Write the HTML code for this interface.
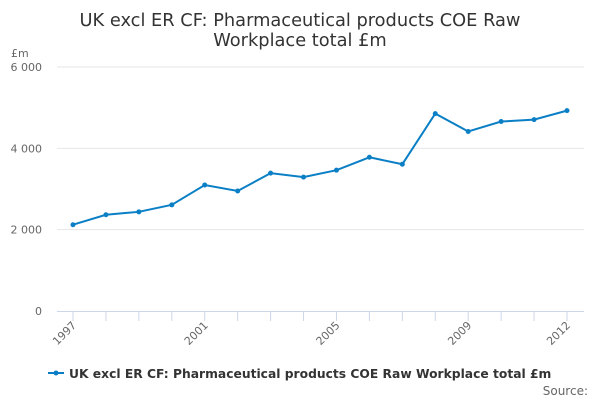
<!DOCTYPE html>
<html><head><meta charset="utf-8"><style>
body{margin:0;background:#fff;font-family:"DejaVu Sans","Liberation Sans",sans-serif}
svg{display:block}
</style></head><body>
<svg id="chart" width="600" height="400" xmlns="http://www.w3.org/2000/svg">
<text x="300" y="26" text-anchor="middle" font-size="17.8" fill="#333">UK excl ER CF: Pharmaceutical products COE Raw</text>
<text x="300" y="46" text-anchor="middle" font-size="17.8" fill="#333">Workplace total £m</text>
<text x="11" y="57" font-size="11" fill="#666">£m</text>
<g id="grid"></g><g id="xaxis"></g><g id="series"></g>
<g>
<line x1="48" y1="373" x2="64" y2="373" stroke="#0a7fc6" stroke-width="2"/>
<circle cx="56" cy="373" r="2.5" fill="#0a7fc6"/>
<text x="69" y="378" font-size="12.3" font-weight="bold" fill="#333">UK excl ER CF: Pharmaceutical products COE Raw Workplace total £m</text>
</g>
<text x="588" y="395" text-anchor="end" font-size="12" fill="#666">Source:</text>
</svg>
<script>
const years=[1997,1998,1999,2000,2001,2002,2003,2004,2005,2006,2007,2008,2009,2010,2011,2012];
const values=[2122,2366,2439,2610,3098,2951,3390,3293,3463,3780,3610,4854,4415,4659,4707,4927];
const yTicks=[0,2000,4000,6000];
const yTickLabels=["0","2 000","4 000","6 000"];
const xLabelYears=[1997,2001,2005,2009,2012];
const NS="http://www.w3.org/2000/svg";
const L=57,R=584,T=67,B=311;
const x=y=>73+(y-1997)*(567-73)/15;
const yv=v=>B-(v/6000)*(B-T);
function mk(t,a,p){const e=document.createElementNS(NS,t);for(const k in a)e.setAttribute(k,a[k]);p.appendChild(e);return e;}
const grid=document.getElementById('grid');
yTicks.forEach((t,i)=>{
  if(t>0){const g=mk('line',{x1:L,x2:R,y1:yv(t),y2:yv(t),stroke:'#e6e6e6','stroke-width':1},grid);
  
  }
  const tx=mk('text',{x:42,y:yv(t)+4,'text-anchor':'end','font-size':11,fill:'#666'},grid);
  tx.textContent=yTickLabels[i];
  
  
});
const xa=document.getElementById('xaxis');
const ax=mk('line',{x1:L,x2:R,y1:B+.5,y2:B+.5,stroke:'#ccd6eb'},xa);


years.forEach(y=>{
  const tk=mk('line',{x1:x(y),x2:x(y),y1:B,y2:B+10,stroke:'#ccd6eb'},xa);
  
  
});
xLabelYears.forEach(y=>{
  const tx=mk('text',{x:x(y)+4,y:B+15,'text-anchor':'end','font-size':11,fill:'#666',transform:`rotate(-45 ${x(y)+4} ${B+15})`},xa);
  tx.textContent=y;
  
  
});
const s=document.getElementById('series');
const pl=mk('polyline',{points:years.map((y,i)=>x(y)+','+yv(values[i])).join(' '),fill:'none',stroke:'#0a7fc6','stroke-width':2},s);


years.forEach((y,i)=>{
  const c=mk('circle',{cx:x(y),cy:yv(values[i]),r:2.5,fill:'#0a7fc6'},s);
  
  
});
</script>
</body></html>
